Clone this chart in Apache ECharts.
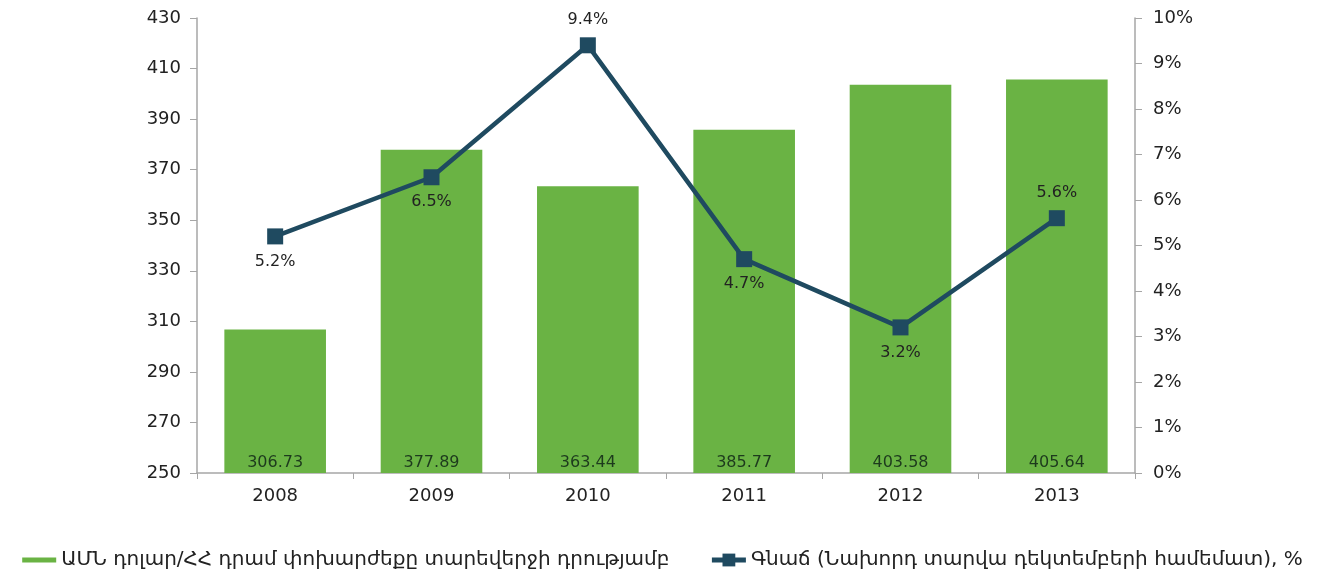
<!DOCTYPE html>
<html>
<head>
<meta charset="utf-8">
<script src="https://cdn.jsdelivr.net/npm/echarts@6/dist/echarts.min.js"></script>
<style>
  html, body { margin: 0; padding: 0; background: #fff; }
  #chart { width: 1325px; height: 578px; }
</style>
</head>
<body>
<div id="chart"></div>
<script>
const years = ['2008', '2009', '2010', '2011', '2012', '2013']
const rates = [306.73, 377.89, 363.44, 385.77, 403.58, 405.64]
const inflation = [5.2, 6.5, 9.4, 4.7, 3.2, 5.6]
const inflationLabelPos = ['bottom', 'bottom', 'top', 'bottom', 'bottom', 'top']
const barName = 'ԱՄՆ դոլար/ՀՀ դրամ փոխարժեքը տարեվերջի դրությամբ'
const lineName = 'Գնաճ (Նախորդ տարվա դեկտեմբերի համեմատ), %'

const font = '"DejaVu Sans", "Noto Sans", sans-serif'
const green = '#6ab344'
const navy = '#1f4a60'
const axisGray = '#a6a6a6'

const chart = echarts.init(document.getElementById('chart'), null, { renderer: 'canvas' })

const option = {
  animation: false,
  grid: { left: 197, right: 190, top: 18, bottom: 105, containLabel: false },
  legend: {
    bottom: 3,
    left: 'center',
    itemGap: 40,
    itemWidth: 34,
    itemHeight: 16,
    textStyle: { fontFamily: font, fontSize: 20, color: '#222' },
    data: [
      { name: barName, icon: 'path://M0,6 L34,6 L34,11 L0,11 Z' },
      { name: lineName, lineStyle: { width: 5 } }
    ]
  },
  xAxis: {
    type: 'category',
    data: years,
    axisLine: { lineStyle: { color: axisGray, width: 1.5 } },
    axisTick: { show: true, length: 6, lineStyle: { color: axisGray } },
    axisLabel: { fontFamily: font, fontSize: 18, color: '#222', margin: 14 }
  },
  yAxis: [
    {
      type: 'value',
      min: 250, max: 430, interval: 20,
      axisLine: { show: true, lineStyle: { color: axisGray, width: 1.5 } },
      axisTick: { show: true, length: 7, lineStyle: { color: axisGray } },
      splitLine: { show: false },
      axisLabel: { fontFamily: font, fontSize: 18, color: '#222', margin: 16 }
    },
    {
      type: 'value',
      min: 0, max: 10, interval: 1,
      position: 'right',
      axisLine: { show: true, lineStyle: { color: axisGray, width: 1.5 } },
      axisTick: { show: true, length: 7, lineStyle: { color: axisGray } },
      splitLine: { show: false },
      axisLabel: { fontFamily: font, fontSize: 18, color: '#222', margin: 18, formatter: '{value}%' }
    }
  ],
  series: [
    {
      name: barName,
      type: 'bar',
      data: rates,
      barWidth: '65%',
      itemStyle: { color: green },
      label: {
        show: true,
        position: 'insideBottom',
        distance: 2,
        fontFamily: font,
        fontSize: 16,
        color: '#1d3a1d'
      }
    },
    {
      name: lineName,
      type: 'line',
      yAxisIndex: 1,
      data: inflation.map((v, i) => ({
        value: v,
        label: { position: inflationLabelPos[i] }
      })),
      symbol: 'rect',
      symbolSize: 16,
      lineStyle: { color: navy, width: 4.5 },
      itemStyle: { color: navy },
      label: {
        show: true,
        distance: 9,
        fontFamily: font,
        fontSize: 16,
        color: '#222',
        formatter: p => p.value.toFixed(1) + '%'
      },
      z: 5
    }
  ]
}

chart.setOption(option)
window.addEventListener('resize', chart.resize)
</script>
</body>
</html>
